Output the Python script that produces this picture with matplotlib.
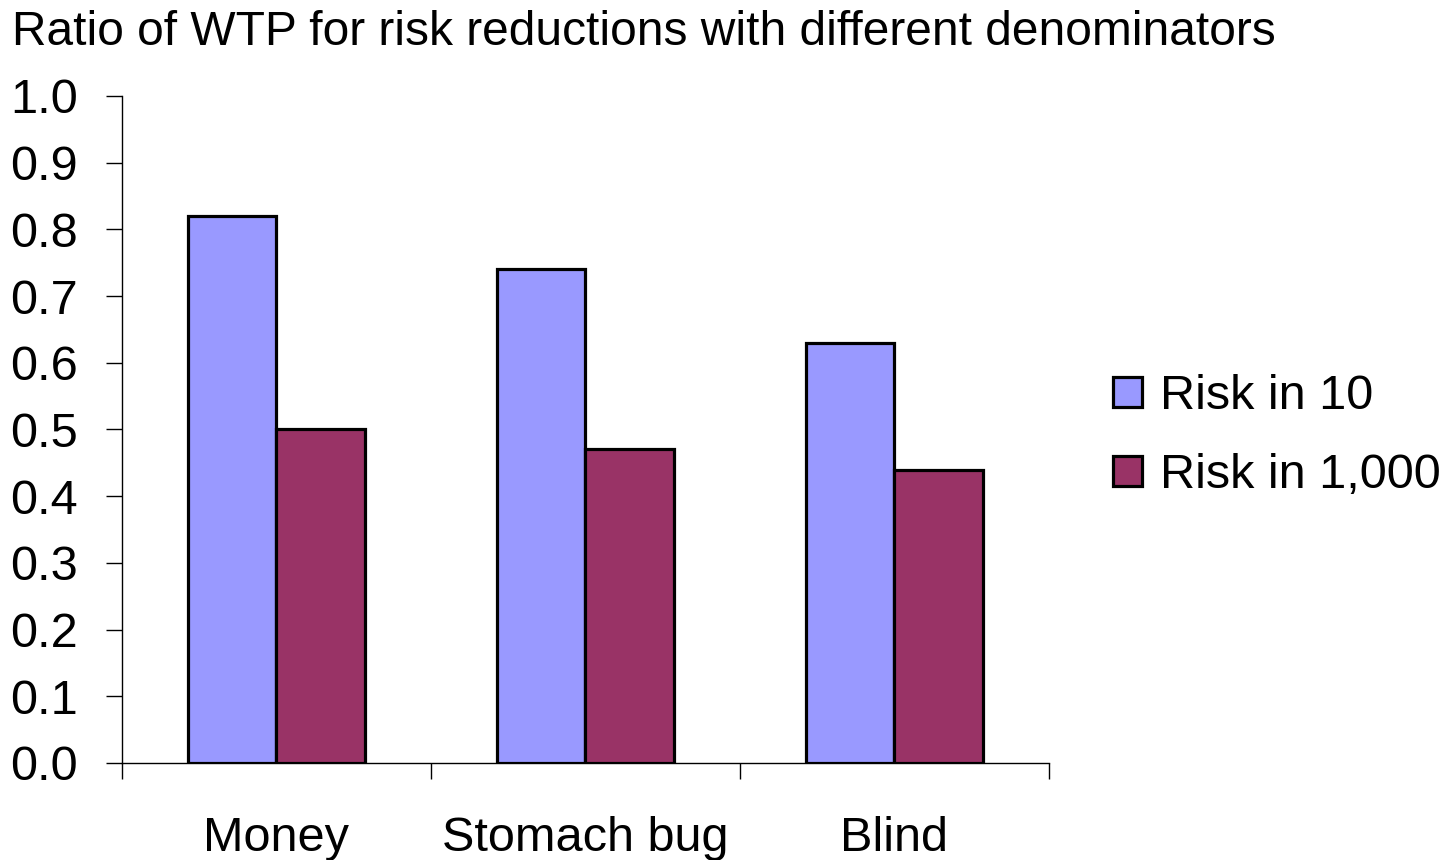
import matplotlib
matplotlib.use("Agg")
import matplotlib.pyplot as plt
from matplotlib.ticker import FixedLocator, FormatStrFormatter, MultipleLocator
import numpy as np

plt.rcParams['font.family'] = ['Liberation Sans', 'DejaVu Sans']

categories = ["Money", "Stomach bug", "Blind"]
series_names = ["Risk in 10", "Risk in 1,000"]
risk_in_10 = [0.82, 0.74, 0.63]
risk_in_1000 = [0.50, 0.47, 0.44]
colors = ["#9999FF", "#993366"]

fig = plt.figure(figsize=(14.52, 8.6), dpi=100)
ax = fig.add_axes([0.0840, 0.1128, 0.6384, 0.7756])

x = np.arange(len(categories))
width = 0.2857
ax.bar(x - width / 2, risk_in_10, width, color=colors[0], edgecolor="black",
       linewidth=2.3, label=series_names[0], zorder=3)
ax.bar(x + width / 2, risk_in_1000, width, color=colors[1], edgecolor="black",
       linewidth=2.3, label=series_names[1], zorder=3)

ax.set_xlim(-0.5, len(categories) - 0.5)
ax.set_ylim(0, 1.0)

for side in ("top", "right"):
    ax.spines[side].set_visible(False)
for side in ("left", "bottom"):
    ax.spines[side].set_linewidth(1.0)
    ax.spines[side].set_color("black")

# y axis
ax.yaxis.set_major_locator(MultipleLocator(0.1))
ax.yaxis.set_major_formatter(FormatStrFormatter('%.1f'))
ax.tick_params(axis="y", which="major", direction="out", length=11.5, width=1.0,
               labelsize=35, pad=20)

# x axis: tick marks at category boundaries, labels at centres
ax.xaxis.set_major_locator(FixedLocator(np.arange(-0.5, len(categories), 1.0)))
ax.xaxis.set_major_formatter(plt.NullFormatter())
ax.xaxis.set_minor_locator(FixedLocator(x))
ax.set_xticklabels(categories, minor=True)
ax.tick_params(axis="x", which="major", direction="out", length=11.5, width=1.0)
ax.tick_params(axis="x", which="minor", length=0, labelsize=35, pad=38)

fig.text(0.008, 0.962, "Ratio of WTP for risk reductions with different denominators",
         fontsize=34.5, ha="left", va="center")

leg = ax.legend(loc="center left", bbox_to_anchor=(1.069, 0.49), frameon=False,
                fontsize=35, handlelength=0.6, handleheight=0.6, borderpad=0,
                borderaxespad=0, handletextpad=0.37, labelspacing=0.7)
for h in leg.legend_handles:
    h.set_linewidth(2.3)

fig.savefig("out.png", dpi=100)
